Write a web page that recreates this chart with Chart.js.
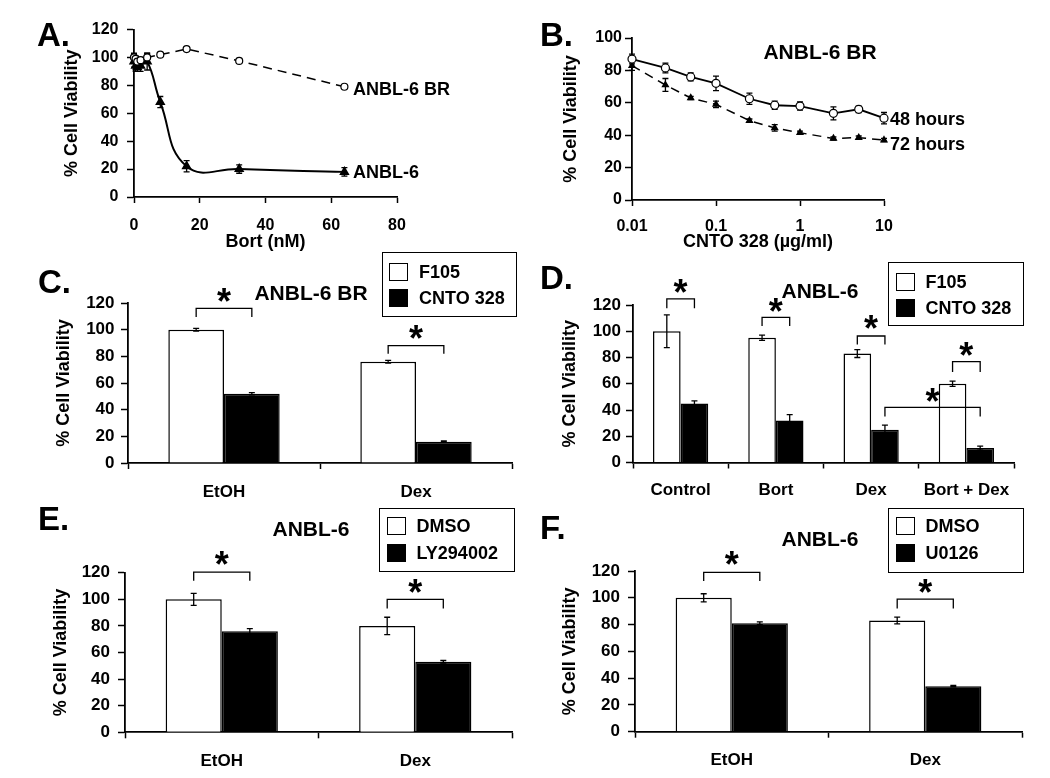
<!DOCTYPE html>
<html>
<head>
<meta charset="utf-8">
<script src="https://cdn.jsdelivr.net/npm/chart.js@4.4.0/dist/chart.umd.min.js"></script>
<style>
  body { margin: 0; background: #fff; width: 1050px; height: 778px; position: relative; overflow: hidden;
         font-family: "Liberation Sans", Arial, sans-serif; font-weight: bold; color: #000; }
  canvas { position: absolute; }
  .t { position: absolute; white-space: nowrap; line-height: 1; }
  .lg { position: absolute; border: 1.5px solid #000; box-sizing: border-box; background: #fff; }
  .sw { position: absolute; width: 19px; height: 18px; box-sizing: border-box; border: 1.5px solid #000; }
</style>
</head>
<body>
<canvas id="cA" width="525" height="255" style="left:0;top:0"></canvas>
<canvas id="cB" width="525" height="255" style="left:525px;top:0"></canvas>
<canvas id="cC" width="525" height="245" style="left:0;top:255px"></canvas>
<canvas id="cD" width="525" height="245" style="left:525px;top:255px"></canvas>
<canvas id="cE" width="525" height="278" style="left:0;top:500px"></canvas>
<canvas id="cF" width="525" height="278" style="left:525px;top:500px"></canvas>
<script>
// ---- A: bortezomib dose response ----
const bortDose = [0, 0.5, 1, 2, 4, 8, 16, 32, 64];
const anbl6BR = [100, 99, 97, 98, 100, 102, 106, 97.5, 79];
const anbl6BRErr = [3, 2, 2, 2, 3, 1, 1, 1, 1];
const anbl6 = [97, 94, 93, 94, 97, 68, 22, 20, 18];
const anbl6Err = [4, 4, 3, 4, 6, 4, 4, 3, 3];

// ---- B: CNTO 328 dose response (ANBL-6 BR) ----
const cntoDose = [0.01, 0.025, 0.05, 0.1, 0.25, 0.5, 1, 2.5, 5, 10];
const h48 = [87, 81.5, 76, 72, 62.5, 58.5, 58, 53.5, 56, 50.5];
const h48Err = [3, 3, 2.5, 4.5, 3.5, 2.5, 2.5, 4, 2, 3.5];
const h72 = [83, 71, 63, 59, 49, 44.5, 41.5, 38, 38.5, 37];
const h72Err = [3, 4, 1, 2, 1, 2, 1, 1, 1, 1];
const logTicks = [0.01, 0.1, 1, 10];

// ---- C ----
const cCats = ["EtOH", "Dex"];
const cF105 = [100, 76];
const cF105Err = [1, 1];
const cCnto = [52, 16];
const cCntoErr = [0.8, 0.5];

// ---- D ----
const dCats = ["Control", "Bort", "Dex", "Bort + Dex"];
const dF105 = [100, 95, 83, 60];
const dF105Err = [12.5, 2, 3, 2];
const dCnto = [45, 32, 25, 11];
const dCntoErr = [2, 4.5, 3.5, 1.5];

// ---- E ----
const eCats = ["EtOH", "Dex"];
const eDmso = [100, 80];
const eDmsoErr = [4.5, 6.5];
const eLy = [76, 53];
const eLyErr = [2, 1];

// ---- F ----
const fCats = ["EtOH", "Dex"];
const fDmso = [100, 83];
const fDmsoErr = [3, 2.5];
const fU0126 = [81, 34];
const fU0126Err = [1, 0.5];

// significance brackets: [catFrom, dsFrom, catTo, dsTo, top, legEnd, star]
const cBrackets = [[0, 0, 0, 1, 116, 109.5, 127], [1, 0, 1, 1, 88, 82, 99]];
const dBrackets = [[0, 0, 0, 1, 124.6, 117.5, 135], [1, 0, 1, 1, 110.6, 104, 121],
                   [2, 0, 2, 1, 96.4, 90, 107.5], [3, 0, 3, 1, 76.8, 69, 87], [2, 1, 3, 1, 42, 35, 52.5]];
const eBrackets = [[0, 0, 0, 1, 120.5, 114, 132], [1, 0, 1, 1, 100, 93, 111]];
const fBrackets = [[0, 0, 0, 1, 119, 112.5, 130.5], [1, 0, 1, 1, 99, 92, 109.5]];

Chart.defaults.font.family = '"Liberation Sans", Arial, sans-serif';
Chart.defaults.font.weight = 'bold';
Chart.defaults.color = '#000';

const FONT = '"Liberation Sans", Arial, sans-serif';
const Y_TITLE = 18;

function drawErrors(chart) {
  const ctx = chart.ctx, y = chart.scales.y;
  ctx.save();
  ctx.strokeStyle = '#000';
  ctx.lineWidth = 1.3;
  chart.data.datasets.forEach((ds, i) => {
    if (!ds.errors) return;
    chart.getDatasetMeta(i).data.forEach((el, j) => {
      const e = ds.errors[j];
      if (!e) return;
      const v = ds.data[j];
      const val = typeof v === 'object' ? v.y : v;
      const top = y.getPixelForValue(val + e), bot = y.getPixelForValue(val - e);
      const x = el.x, cap = 3;
      ctx.beginPath();
      ctx.moveTo(x, top); ctx.lineTo(x, bot);
      ctx.moveTo(x - cap, top); ctx.lineTo(x + cap, top);
      ctx.moveTo(x - cap, bot); ctx.lineTo(x + cap, bot);
      ctx.stroke();
    });
  });
  ctx.restore();
}

// lines: error bars under the markers; bars: on top of the bars
const errorBarPlugin = {
  id: 'errorBars',
  beforeDatasetsDraw(chart) { if (chart.config.type === 'line') drawErrors(chart); },
  afterDatasetsDraw(chart) { if (chart.config.type === 'bar') drawErrors(chart); }
};

function bracketPlugin(list) {
  return {
    id: 'brackets',
    afterDraw(chart) {
      const ctx = chart.ctx, y = chart.scales.y;
      ctx.save();
      ctx.strokeStyle = '#000';
      ctx.fillStyle = '#000';
      ctx.lineWidth = 1.3;
      ctx.font = 'bold 36px ' + FONT;
      ctx.textAlign = 'center';
      ctx.textBaseline = 'alphabetic';
      list.forEach(([c0, d0, c1, d1, top, leg, star]) => {
        const x0 = chart.getDatasetMeta(d0).data[c0].x;
        const x1 = chart.getDatasetMeta(d1).data[c1].x;
        const yt = y.getPixelForValue(top), yl = y.getPixelForValue(leg);
        ctx.beginPath();
        ctx.moveTo(x0, yl); ctx.lineTo(x0, yt); ctx.lineTo(x1, yt); ctx.lineTo(x1, yl);
        ctx.stroke();
        ctx.fillText('*', (x0 + x1) / 2, y.getPixelForValue(star) + 0.555 * 36);
      });
      ctx.restore();
    }
  };
}

// canvas rect c, plot rect p -> layout padding and fixed axis sizes
function geom(c, p, yTitleX, xTitleY) {
  const padLeft = yTitleX - Y_TITLE * 1.2 / 2 - c.x;
  let xH, padBottom;
  if (xTitleY) {
    const bot = xTitleY + 18 * 1.2 / 2;
    xH = bot - p.B;
    padBottom = c.y + c.h - bot;
  } else {
    xH = c.y + c.h - p.B;
    padBottom = 0;
  }
  return {
    padding: { left: padLeft, top: p.T - c.y, right: c.x + c.w - p.R, bottom: padBottom },
    yW: p.L - c.x - padLeft,
    xH
  };
}

const axisGrid = (len) => ({ display: true, drawOnChartArea: false, tickLength: len, tickColor: '#000', tickWidth: 1.5 });
const axisBorder = { display: true, color: '#000', width: 1.8 };

function yAxis(g, max, size, pad) {
  return {
    min: 0, max,
    ticks: { stepSize: 20, padding: pad, color: '#000', font: { size, weight: 'bold' } },
    grid: axisGrid(7),
    border: axisBorder,
    title: { display: true, text: '% Cell Viability', color: '#000', font: { size: Y_TITLE, weight: 'bold' }, padding: 0 },
    afterFit: s => { s.width = g.yW; }
  };
}

function xCat(g, pad) {
  return {
    ticks: { padding: pad, color: '#000', font: { size: 17, weight: 'bold' } },
    grid: Object.assign(axisGrid(6), { offset: true }),
    border: axisBorder,
    afterFit: s => { s.height = g.xH; }
  };
}

const baseOpts = (g) => ({
  responsive: false,
  animation: false,
  layout: { padding: g.padding },
  plugins: { legend: { display: false }, tooltip: { enabled: false } }
});

// ---- A ----
const gA = geom({ x: 0, y: 0, w: 525, h: 255 }, { L: 134, T: 29.5, R: 397, B: 197 }, 72, 242);
new Chart(document.getElementById('cA'), {
  type: 'line',
  data: {
    datasets: [
      { label: 'ANBL-6 BR', data: bortDose.map((x, i) => ({ x, y: anbl6BR[i] })), errors: anbl6BRErr,
        borderColor: '#000', borderWidth: 1.5, borderDash: [9, 6], tension: 0, clip: false,
        pointStyle: 'circle', pointRadius: 3.5, pointBackgroundColor: '#fff', pointBorderColor: '#000', pointBorderWidth: 1.2 },
      { label: 'ANBL-6', data: bortDose.map((x, i) => ({ x, y: anbl6[i] })), errors: anbl6Err,
        borderColor: '#000', borderWidth: 2, tension: 0.45, clip: false,
        pointStyle: 'triangle', pointRadius: 4, pointBackgroundColor: '#000', pointBorderColor: '#000' }
    ]
  },
  options: Object.assign(baseOpts(gA), {
    scales: {
      x: {
        type: 'linear', min: 0, max: 80,
        ticks: { stepSize: 20, padding: 13, color: '#000', font: { size: 16, weight: 'bold' } },
        grid: axisGrid(6), border: axisBorder,
        title: { display: true, text: 'Bort (nM)', color: '#000', font: { size: 18, weight: 'bold' }, padding: 0 },
        afterFit: s => { s.height = gA.xH; }
      },
      y: yAxis(gA, 120, 16, 8.5)
    }
  }),
  plugins: [errorBarPlugin]
});

// ---- B ----
const gB = geom({ x: 525, y: 0, w: 525, h: 255 }, { L: 632, T: 38, R: 884, B: 200 }, 571, 242);
new Chart(document.getElementById('cB'), {
  type: 'line',
  data: {
    datasets: [
      { label: '48 hours', data: cntoDose.map((x, i) => ({ x, y: h48[i] })), errors: h48Err,
        borderColor: '#000', borderWidth: 1.8, tension: 0, clip: false,
        pointStyle: 'circle', pointRadius: 4, pointBackgroundColor: '#fff', pointBorderColor: '#000', pointBorderWidth: 1.2 },
      { label: '72 hours', data: cntoDose.map((x, i) => ({ x, y: h72[i] })), errors: h72Err,
        borderColor: '#000', borderWidth: 1.5, borderDash: [9, 6], tension: 0, clip: false,
        pointStyle: 'triangle', pointRadius: 3.2, pointBackgroundColor: '#000', pointBorderColor: '#000' }
    ]
  },
  options: Object.assign(baseOpts(gB), {
    scales: {
      x: {
        type: 'logarithmic', min: 0.01, max: 10,
        afterBuildTicks: s => { s.ticks = logTicks.map(v => ({ value: v })); },
        ticks: { padding: 11, color: '#000', font: { size: 16, weight: 'bold' }, callback: v => String(v) },
        grid: axisGrid(6), border: axisBorder,
        title: { display: true, text: 'CNTO 328 (µg/ml)', color: '#000', font: { size: 18, weight: 'bold' }, padding: 0 },
        afterFit: s => { s.height = gB.xH; }
      },
      y: yAxis(gB, 100, 16, 3)
    }
  }),
  plugins: [errorBarPlugin]
});

function barChart(id, g, cats, s1, s1Err, s2, s2Err, brackets, yPad, xPad) {
  new Chart(document.getElementById(id), {
    type: 'bar',
    data: {
      labels: cats,
      datasets: [
        { data: s1, errors: s1Err, backgroundColor: '#fff', borderColor: '#000', borderWidth: 1.5 },
        { data: s2, errors: s2Err, backgroundColor: '#000', borderColor: '#000', borderWidth: 1.5 }
      ]
    },
    options: Object.assign(baseOpts(g), {
      categoryPercentage: 0.58,
      barPercentage: 1,
      scales: { x: xCat(g, xPad), y: yAxis(g, 120, 17, yPad) }
    }),
    plugins: [errorBarPlugin, bracketPlugin(brackets)]
  });
}

const gC = geom({ x: 0, y: 255, w: 525, h: 245 }, { L: 128, T: 303, R: 512, B: 463 }, 64);
barChart('cC', gC, cCats, cF105, cF105Err, cCnto, cCntoErr, cBrackets, 6.5, 13);

const gD = geom({ x: 525, y: 255, w: 525, h: 245 }, { L: 633, T: 305, R: 1014, B: 462.5 }, 570);
barChart('cD', gD, dCats, dF105, dF105Err, dCnto, dCntoErr, dBrackets, 5, 12);

const gE = geom({ x: 0, y: 500, w: 525, h: 278 }, { L: 125, T: 572.7, R: 512, B: 732.3 }, 61.5);
barChart('cE', gE, eCats, eDmso, eDmsoErr, eLy, eLyErr, eBrackets, 8, 12.5);

const gF = geom({ x: 525, y: 500, w: 525, h: 278 }, { L: 635, T: 571, R: 1022, B: 731.7 }, 570);
barChart('cF', gF, fCats, fDmso, fDmsoErr, fU0126, fU0126Err, fBrackets, 8, 12.5);

// ---- overlay text ----
function label(text, x, cy, size, center) {
  const d = document.createElement('div');
  d.className = 't';
  d.textContent = text;
  d.style.fontSize = size + 'px';
  d.style.left = x + 'px';
  d.style.top = (cy - size / 2) + 'px';
  if (center) d.style.transform = 'translateX(-50%)';
  document.body.appendChild(d);
}

function legend(x, y, w, h, rows, r1, r2) {
  const box = document.createElement('div');
  box.className = 'lg';
  Object.assign(box.style, { left: x + 'px', top: y + 'px', width: w + 'px', height: h + 'px' });
  [r1, r2].forEach((cy, i) => {
    const sw = document.createElement('div');
    sw.className = 'sw';
    sw.style.left = '6.5px';
    sw.style.top = (cy - 1.5 - 9) + 'px';
    sw.style.background = rows[i][1];
    box.appendChild(sw);
    const t = document.createElement('div');
    t.className = 't';
    t.textContent = rows[i][0];
    t.style.fontSize = '18px';
    t.style.left = '36.5px';
    t.style.top = (cy - 1.5 - 9) + 'px';
    box.appendChild(t);
  });
  document.body.appendChild(box);
}

label('A.', 37, 34, 33);
label('B.', 540, 34, 33);
label('C.', 38, 281, 33);
label('D.', 540, 277, 33);
label('E.', 38, 518, 33);
label('F.', 540, 527, 33);

label('ANBL-6 BR', 353, 89, 18);
label('ANBL-6', 353, 172, 18);
label('ANBL-6 BR', 820, 51, 21, true);
label('48 hours', 890, 119, 18);
label('72 hours', 890, 144, 18);
label('ANBL-6 BR', 311, 292.5, 21, true);
label('ANBL-6', 820, 290, 21, true);
label('ANBL-6', 311, 528, 21, true);
label('ANBL-6', 820, 538, 21, true);

legend(381.5, 251.5, 135, 65, [['F105', '#fff'], ['CNTO 328', '#000']], 21.3, 47.3);
legend(888, 262, 136, 64, [['F105', '#fff'], ['CNTO 328', '#000']], 20, 46.6);
legend(379, 508, 136, 64, [['DMSO', '#fff'], ['LY294002', '#000']], 18.7, 45.7);
legend(888, 508, 136, 65, [['DMSO', '#fff'], ['U0126', '#000']], 18.4, 45.5);
</script>
</body>
</html>
